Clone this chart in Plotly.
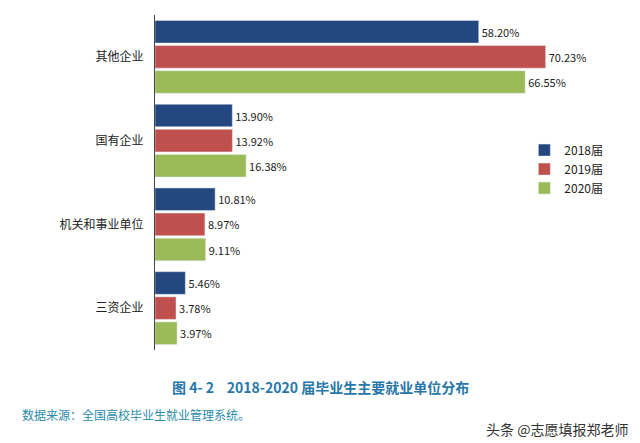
import plotly.graph_objects as go

categories = ["其他企业", "国有企业", "机关和事业单位", "三资企业"]
series_names = ["2018届", "2019届", "2020届"]
v2018 = [58.20, 13.90, 10.81, 5.46]
v2019 = [70.23, 13.92, 8.97, 3.78]
v2020 = [66.55, 16.38, 9.11, 3.97]
colors = ["#23477e", "#c0504d", "#9bbb59"]

fig = go.Figure()
for name, vals, c in zip(series_names, [v2018, v2019, v2020], colors):
    fig.add_trace(go.Bar(
        y=categories, x=vals, name=name, orientation="h", marker_color=c,
        text=[f"{v:.2f}%" for v in vals], textposition="outside",
        textfont=dict(size=11, color="#222"), cliponaxis=False))

fig.update_layout(
    width=640, height=443, barmode="group", bargap=0.1, bargroupgap=0.1,
    margin=dict(l=155, r=40, t=15, b=93, autoexpand=False),
    plot_bgcolor="white", paper_bgcolor="white",
    font=dict(family="Noto Sans CJK SC", size=13, color="#222"),
    legend=dict(x=0.83, y=0.64, xanchor="left", yanchor="top", font=dict(size=12),
                bgcolor="rgba(0,0,0,0)", itemwidth=30, tracegroupgap=0),
    xaxis=dict(range=[0, 80], visible=False),
    yaxis=dict(autorange="reversed", showline=True, linecolor="#444", linewidth=1,
               ticks="", ticksuffix="   ", tickfont=dict(size=12), automargin=False),
)
fig.add_annotation(x=(320-155)/445, y=-0.075, xref="paper", yref="paper", showarrow=False,
    text="<b>图 4- 2    2018-2020 届毕业生主要就业单位分布</b>", xanchor="center",
    font=dict(size=14, color="#2877a8"), yanchor="top")
fig.add_annotation(x=-135/445, y=-0.16, xref="paper", yref="paper", showarrow=False,
    text="数据来源：全国高校毕业生就业管理系统。", xanchor="left", yanchor="top",
    font=dict(size=12, color="#2a8aa8"))
fig.add_annotation(x=1 + 30/445, y=-0.2, xref="paper", yref="paper", showarrow=False,
    text="头条 @志愿填报郑老师", xanchor="right", yanchor="top",
    font=dict(size=14, color="#333"))
fig.write_html("out.html", config={"displayModeBar": False})
with open("out.html", encoding="utf-8") as f:
    html = f.read()
html = html.replace("<head>", "<head><style>html,body{margin:0;padding:0;overflow:hidden}</style>", 1)
with open("out.html", "w", encoding="utf-8") as f:
    f.write(html)
